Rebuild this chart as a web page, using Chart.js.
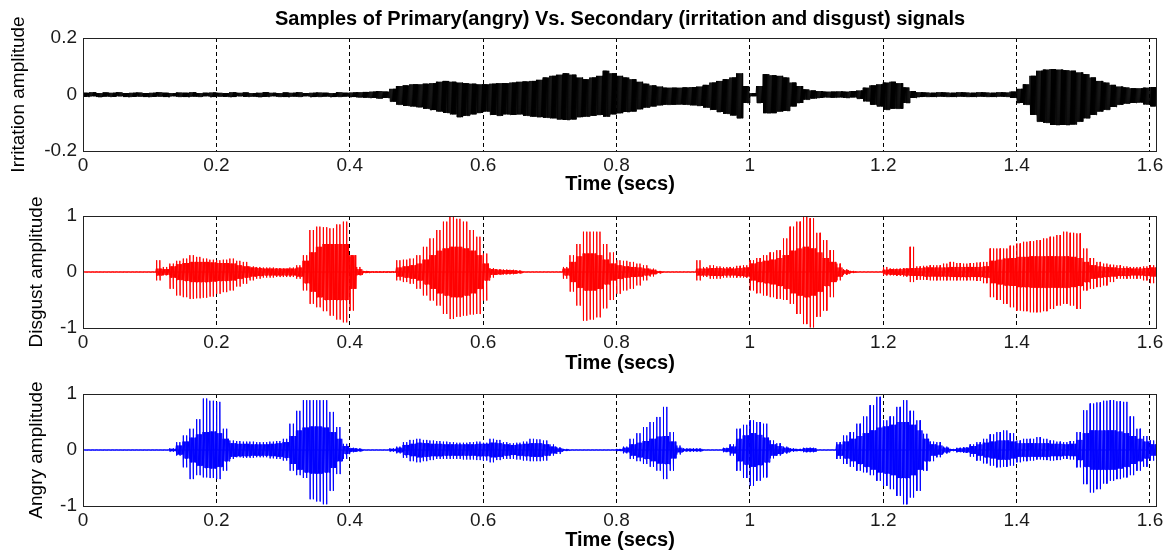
<!DOCTYPE html>
<html><head><meta charset="utf-8">
<script src="https://cdn.jsdelivr.net/npm/chart.js@4/dist/chart.umd.min.js"></script>
<style>
html,body{margin:0;padding:0;background:#fff;overflow:hidden;width:1167px;height:551px;}
canvas{position:absolute;left:0;}
</style></head><body>
<canvas id="c1" width="1167" height="200" style="top:0px"></canvas>
<canvas id="c2" width="1167" height="190" style="top:190px"></canvas>
<canvas id="c3" width="1167" height="180" style="top:375px"></canvas>
<script>
// ---- data (envelope of each signal read per 0.01 s bin, from t = 0 to 1.61 s) ----
const TIME_STEP = 0.01;
const X_MAX = 1.6105;
const xTicks = [0, 0.2, 0.4, 0.6, 0.8, 1.0, 1.2, 1.4, 1.6];
const irrTicks = [-0.2, 0, 0.2];
const ampTicks = [-1, 0, 1];

const irrTop = [
0.006,0.008,0.005,0.007,0.006,0.008,0.005,0.006,0.007,0.005,
0.006,0.008,0.006,0.005,0.007,0.006,0.008,0.005,0.006,0.007,
0.006,0.005,0.008,0.006,0.007,0.005,0.006,0.008,0.006,0.005,
0.007,0.006,0.008,0.005,0.006,0.007,0.006,0.005,0.008,0.006,
0.007,0.008,0.009,0.01,0.012,0.01,0.02,0.03,0.032,0.036,
0.036,0.038,0.04,0.045,0.048,0.045,0.042,0.04,0.038,0.036,
0.036,0.038,0.04,0.04,0.042,0.045,0.046,0.048,0.052,0.06,
0.066,0.07,0.075,0.07,0.06,0.054,0.06,0.066,0.084,0.075,
0.066,0.06,0.054,0.045,0.038,0.032,0.028,0.024,0.024,0.024,
0.025,0.026,0.028,0.034,0.042,0.048,0.054,0.06,0.075,0.03,
0.005,0.03,0.072,0.068,0.066,0.06,0.042,0.03,0.018,0.014,
0.012,0.01,0.01,0.011,0.01,0.012,0.014,0.024,0.032,0.036,
0.042,0.045,0.04,0.025,0.012,0.008,0.007,0.006,0.008,0.007,
0.006,0.008,0.007,0.006,0.008,0.007,0.006,0.008,0.007,0.01,
0.02,0.036,0.066,0.084,0.088,0.09,0.088,0.086,0.084,0.078,
0.072,0.06,0.048,0.042,0.034,0.028,0.025,0.022,0.022,0.024,
0.026,0.028];
const irrBot = [
-0.008,-0.006,-0.009,-0.007,-0.008,-0.006,-0.009,-0.008,-0.007,-0.009,
-0.008,-0.007,-0.009,-0.006,-0.008,-0.009,-0.007,-0.008,-0.006,-0.009,
-0.007,-0.008,-0.009,-0.006,-0.008,-0.007,-0.009,-0.008,-0.006,-0.008,
-0.009,-0.007,-0.008,-0.006,-0.009,-0.008,-0.007,-0.009,-0.008,-0.007,
-0.009,-0.01,-0.011,-0.012,-0.014,-0.012,-0.025,-0.036,-0.04,-0.042,
-0.045,-0.05,-0.055,-0.06,-0.065,-0.07,-0.08,-0.075,-0.07,-0.065,
-0.06,-0.072,-0.075,-0.07,-0.072,-0.07,-0.075,-0.078,-0.08,-0.082,
-0.084,-0.088,-0.09,-0.088,-0.08,-0.078,-0.075,-0.072,-0.078,-0.07,
-0.066,-0.062,-0.06,-0.052,-0.046,-0.042,-0.038,-0.036,-0.036,-0.035,
-0.036,-0.038,-0.04,-0.046,-0.054,-0.062,-0.068,-0.074,-0.084,-0.03,
-0.006,-0.03,-0.066,-0.066,-0.06,-0.058,-0.042,-0.03,-0.018,-0.014,
-0.012,-0.01,-0.011,-0.01,-0.012,-0.01,-0.015,-0.024,-0.036,-0.042,
-0.054,-0.05,-0.05,-0.03,-0.012,-0.009,-0.008,-0.009,-0.007,-0.008,
-0.009,-0.007,-0.008,-0.009,-0.007,-0.008,-0.009,-0.007,-0.008,-0.012,
-0.03,-0.036,-0.072,-0.096,-0.1,-0.108,-0.108,-0.108,-0.106,-0.096,
-0.084,-0.072,-0.06,-0.054,-0.044,-0.036,-0.032,-0.03,-0.028,-0.035,
-0.042,-0.042];

// disgust: peak envelope (spikes) and dense core amplitude
const disTop = [
0.005,0.004,0.005,0.004,0.005,0.004,0.005,0.004,0.005,0.004,
0.005,0.21,0.09,0.15,0.2,0.24,0.3,0.27,0.24,0.22,
0.21,0.22,0.24,0.2,0.18,0.1,0.09,0.08,0.08,0.07,
0.06,0.08,0.12,0.3,0.75,0.81,0.8,0.78,0.85,0.9,
0.27,0.09,0.02,0.01,0.01,0.01,0.01,0.21,0.22,0.24,
0.3,0.45,0.6,0.75,0.9,0.99,0.95,0.9,0.75,0.63,
0.33,0.07,0.05,0.045,0.04,0.03,0.005,0.005,0.005,0.005,
0.005,0.005,0.09,0.3,0.5,0.72,0.72,0.72,0.5,0.35,
0.21,0.2,0.18,0.15,0.12,0.06,0.02,0.005,0.005,0.005,
0.005,0.005,0.21,0.09,0.12,0.1,0.09,0.09,0.11,0.12,
0.21,0.25,0.3,0.35,0.39,0.6,0.81,0.9,0.99,0.96,
0.7,0.57,0.39,0.15,0.05,0.02,0.003,0.003,0.003,0.003,
0.09,0.06,0.06,0.07,0.45,0.1,0.11,0.12,0.12,0.15,
0.18,0.16,0.15,0.16,0.17,0.18,0.42,0.42,0.42,0.47,
0.51,0.54,0.55,0.57,0.6,0.63,0.66,0.72,0.7,0.69,
0.42,0.25,0.18,0.15,0.13,0.12,0.1,0.09,0.09,0.1,
0.12,0.24];
const disBot = [
-0.005,-0.004,-0.005,-0.004,-0.005,-0.004,-0.005,-0.004,-0.005,-0.004,
-0.005,-0.15,-0.06,-0.3,-0.42,-0.45,-0.48,-0.47,-0.46,-0.44,
-0.39,-0.36,-0.33,-0.26,-0.21,-0.15,-0.12,-0.1,-0.1,-0.09,
-0.09,-0.09,-0.12,-0.33,-0.57,-0.63,-0.7,-0.78,-0.85,-0.9,
-0.69,-0.06,-0.02,-0.01,-0.01,-0.01,-0.01,-0.15,-0.18,-0.21,
-0.3,-0.42,-0.51,-0.6,-0.75,-0.84,-0.8,-0.78,-0.76,-0.75,
-0.51,-0.1,-0.05,-0.045,-0.04,-0.03,-0.005,-0.005,-0.005,-0.005,
-0.005,-0.005,-0.12,-0.35,-0.6,-0.87,-0.85,-0.81,-0.65,-0.5,
-0.39,-0.33,-0.3,-0.24,-0.15,-0.08,-0.03,-0.005,-0.005,-0.005,
-0.005,-0.005,-0.15,-0.09,-0.12,-0.12,-0.1,-0.1,-0.1,-0.1,
-0.33,-0.38,-0.42,-0.45,-0.48,-0.5,-0.57,-0.75,-0.93,-0.99,
-0.8,-0.69,-0.45,-0.15,-0.05,-0.02,-0.003,-0.003,-0.003,-0.003,
-0.06,-0.06,-0.07,-0.08,-0.18,-0.14,-0.14,-0.15,-0.15,-0.15,
-0.15,-0.15,-0.15,-0.15,-0.16,-0.2,-0.45,-0.5,-0.57,-0.63,
-0.69,-0.7,-0.72,-0.72,-0.7,-0.66,-0.6,-0.57,-0.6,-0.66,
-0.33,-0.3,-0.27,-0.24,-0.18,-0.12,-0.12,-0.12,-0.12,-0.15,
-0.2,-0.33];
const disCore = [
0.003,0.003,0.003,0.003,0.003,0.003,0.003,0.003,0.003,0.003,
0.003,0.06,0.05,0.1,0.14,0.16,0.18,0.18,0.18,0.17,
0.16,0.16,0.15,0.12,0.1,0.08,0.07,0.06,0.06,0.06,
0.06,0.06,0.08,0.2,0.35,0.45,0.5,0.5,0.5,0.5,
0.3,0.05,0.015,0.008,0.008,0.008,0.008,0.08,0.1,0.12,
0.15,0.22,0.3,0.38,0.42,0.45,0.45,0.42,0.38,0.3,
0.15,0.05,0.04,0.035,0.03,0.02,0.003,0.003,0.003,0.003,
0.003,0.003,0.06,0.18,0.28,0.33,0.33,0.3,0.22,0.15,
0.12,0.1,0.09,0.08,0.06,0.04,0.015,0.003,0.003,0.003,
0.003,0.003,0.06,0.06,0.07,0.07,0.06,0.06,0.07,0.08,
0.15,0.18,0.2,0.22,0.25,0.3,0.38,0.42,0.45,0.42,
0.35,0.25,0.18,0.08,0.03,0.01,0.003,0.003,0.003,0.003,
0.04,0.05,0.05,0.06,0.07,0.07,0.08,0.08,0.08,0.08,
0.09,0.09,0.09,0.09,0.09,0.1,0.2,0.22,0.24,0.25,
0.27,0.27,0.28,0.28,0.28,0.28,0.28,0.28,0.27,0.25,
0.18,0.12,0.1,0.09,0.08,0.07,0.07,0.06,0.06,0.07,
0.08,0.12];

// angry: peak envelope (spikes) and dense core amplitude
const angTop = [
0.003,0.003,0.003,0.003,0.003,0.003,0.003,0.003,0.003,0.003,
0.003,0.003,0.003,0.03,0.14,0.26,0.38,0.55,0.92,0.88,
0.86,0.38,0.17,0.16,0.15,0.15,0.14,0.14,0.15,0.16,
0.2,0.47,0.7,0.89,0.89,0.89,0.89,0.68,0.41,0.11,
0.04,0.03,0.003,0.003,0.003,0.003,0.03,0.06,0.14,0.18,
0.2,0.18,0.17,0.16,0.15,0.14,0.13,0.13,0.14,0.15,
0.13,0.2,0.18,0.14,0.12,0.13,0.15,0.2,0.19,0.17,
0.1,0.05,0.02,0.003,0.003,0.003,0.003,0.003,0.003,0.003,
0.02,0.06,0.2,0.3,0.41,0.5,0.59,0.77,0.32,0.08,
0.03,0.03,0.03,0.003,0.003,0.003,0.04,0.1,0.38,0.45,
0.53,0.5,0.47,0.17,0.12,0.06,0.03,0.02,0.04,0.04,
0.003,0.003,0.003,0.14,0.26,0.32,0.47,0.6,0.8,0.95,
0.53,0.6,0.77,0.89,0.7,0.53,0.29,0.15,0.14,0.06,
0.02,0.04,0.05,0.1,0.14,0.2,0.28,0.32,0.35,0.3,
0.17,0.2,0.2,0.23,0.2,0.17,0.15,0.14,0.16,0.32,
0.71,0.83,0.85,0.88,0.89,0.87,0.86,0.6,0.38,0.25,
0.17,0.08];
const angBot = [
-0.003,-0.003,-0.003,-0.003,-0.003,-0.003,-0.003,-0.003,-0.003,-0.003,
-0.003,-0.003,-0.003,-0.03,-0.1,-0.31,-0.52,-0.45,-0.49,-0.5,
-0.52,-0.37,-0.16,-0.13,-0.14,-0.14,-0.13,-0.13,-0.15,-0.16,
-0.19,-0.37,-0.45,-0.5,-0.88,-0.92,-0.97,-0.73,-0.43,-0.16,
-0.04,-0.03,-0.003,-0.003,-0.003,-0.003,-0.03,-0.06,-0.14,-0.2,
-0.22,-0.2,-0.18,-0.16,-0.16,-0.16,-0.16,-0.17,-0.17,-0.18,
-0.19,-0.22,-0.18,-0.16,-0.16,-0.17,-0.19,-0.2,-0.2,-0.19,
-0.1,-0.07,-0.02,-0.003,-0.003,-0.003,-0.003,-0.003,-0.003,-0.003,
-0.02,-0.06,-0.16,-0.2,-0.25,-0.3,-0.37,-0.52,-0.37,-0.08,
-0.03,-0.03,-0.03,-0.003,-0.003,-0.003,-0.04,-0.1,-0.37,-0.5,
-0.64,-0.55,-0.49,-0.15,-0.1,-0.06,-0.03,-0.02,-0.04,-0.04,
-0.003,-0.003,-0.003,-0.16,-0.25,-0.3,-0.37,-0.4,-0.45,-0.55,
-0.64,-0.7,-0.82,-0.97,-0.85,-0.73,-0.37,-0.2,-0.13,-0.06,
-0.02,-0.04,-0.05,-0.12,-0.19,-0.24,-0.28,-0.31,-0.3,-0.28,
-0.22,-0.2,-0.19,-0.17,-0.18,-0.19,-0.18,-0.16,-0.17,-0.31,
-0.61,-0.76,-0.7,-0.6,-0.55,-0.52,-0.49,-0.45,-0.37,-0.3,
-0.19,-0.13];
const angCore = [
0.003,0.003,0.003,0.003,0.003,0.003,0.003,0.003,0.003,0.003,
0.003,0.003,0.003,0.02,0.08,0.15,0.22,0.28,0.32,0.33,
0.3,0.2,0.12,0.11,0.11,0.1,0.1,0.1,0.11,0.12,
0.14,0.25,0.35,0.4,0.42,0.42,0.4,0.32,0.2,0.07,
0.03,0.02,0.003,0.003,0.003,0.003,0.02,0.04,0.09,0.11,
0.13,0.12,0.11,0.11,0.1,0.1,0.1,0.1,0.1,0.11,
0.11,0.13,0.12,0.1,0.09,0.1,0.11,0.12,0.12,0.1,
0.06,0.03,0.01,0.003,0.003,0.003,0.003,0.003,0.003,0.003,
0.015,0.04,0.1,0.13,0.16,0.2,0.24,0.25,0.15,0.04,
0.02,0.02,0.02,0.003,0.003,0.003,0.03,0.06,0.2,0.26,
0.3,0.27,0.22,0.1,0.07,0.04,0.02,0.015,0.03,0.03,
0.003,0.003,0.003,0.1,0.15,0.2,0.25,0.3,0.35,0.4,
0.42,0.45,0.5,0.5,0.45,0.35,0.2,0.1,0.08,0.04,
0.015,0.03,0.04,0.07,0.1,0.13,0.15,0.17,0.17,0.15,
0.12,0.12,0.12,0.12,0.12,0.11,0.11,0.1,0.11,0.18,
0.3,0.35,0.35,0.35,0.35,0.33,0.3,0.25,0.2,0.15,
0.1,0.07];

// ---- rendering helpers ----
const FONT = "'Liberation Sans', Arial, Helvetica, sans-serif";
const TXT = '#1a1a1a';

// dense oscillation between the read upper and lower envelope of each bin
function envelopeTrace(top, bot, reps) {
  const pts = [];
  const sub = TIME_STEP / reps;
  for (let i = 0; i < top.length; i++) {
    const t = i * TIME_STEP;
    for (let k = 0; k < reps; k++) {
      pts.push({x: t + k * sub, y: top[i]});
      pts.push({x: t + k * sub + sub / 2, y: bot[i]});
    }
  }
  return pts;
}
// near-vertical pitch spikes reaching the read peak envelope, returning to the baseline
function spikeTrace(top, bot, perBin) {
  const pts = [];
  const sub = TIME_STEP / perBin;
  for (let i = 0; i < top.length; i++) {
    const t = i * TIME_STEP;
    for (let k = 0; k < perBin; k++) {
      const s = t + k * sub;
      pts.push({x: s, y: 0});
      pts.push({x: s + 0.0002, y: top[i]});
      pts.push({x: s + 0.0005, y: bot[i]});
      pts.push({x: s + 0.0007, y: 0});
    }
  }
  return pts;
}
function negate(a) { return a.map(v => -v); }

const boxPlugin = {
  id: 'box',
  afterDraw(chart) {
    const {ctx, chartArea: a} = chart;
    ctx.save();
    ctx.strokeStyle = '#222';
    ctx.lineWidth = 1;
    ctx.setLineDash([]);
    ctx.strokeRect(Math.round(a.left) + 0.5, Math.round(a.top) + 0.5,
                   Math.round(a.right - a.left) - 1, Math.round(a.bottom - a.top));
    ctx.restore();
  }
};

function fmt(v) { return String(Math.round(v * 10) / 10); }

function ds(points, color) {
  return {data: points, borderColor: color, borderWidth: 1, pointRadius: 0,
          tension: 0, fill: false, spanGaps: true};
}

function makePanel(id, o) {
  new Chart(document.getElementById(id), {
    type: 'line',
    data: {datasets: o.datasets},
    options: {
      responsive: false, animation: false, devicePixelRatio: 1,
      parsing: false, normalized: true,
      layout: {padding: {left: 0, right: 10, top: o.padTop, bottom: 0}},
      plugins: {
        legend: {display: false}, tooltip: {enabled: false},
        title: o.title ? {
          display: true, text: o.title, fullSize: false, color: '#000',
          font: {family: FONT, size: 20, weight: 'bold', lineHeight: 1.2},
          padding: {top: 7, bottom: 7}
        } : {display: false}
      },
      scales: {
        x: {
          type: 'linear', min: 0, max: X_MAX,
          afterBuildTicks: s => { s.ticks = xTicks.map(v => ({value: v})); },
          afterFit: s => { s.height = o.xAxisH; },
          ticks: {callback: v => fmt(v), color: TXT, padding: 3, maxRotation: 0, autoSkip: false,
                  font: {family: FONT, size: 19}},
          grid: {color: '#000', lineWidth: 1, drawTicks: false},
          border: {display: false, dash: [4, 3]},
          title: {display: true, text: 'Time (secs)', color: '#000',
                  font: {family: FONT, size: 20, weight: 'bold', lineHeight: 1.2},
                  padding: {top: 0, bottom: o.xTitlePad}}
        },
        y: {
          type: 'linear', min: o.yTicks[0], max: o.yTicks[o.yTicks.length - 1],
          afterBuildTicks: s => { s.ticks = o.yTicks.map(v => ({value: v})); },
          afterFit: s => { s.width = 83; },
          ticks: {callback: v => fmt(v), color: TXT, padding: 6, autoSkip: false,
                  font: {family: FONT, size: 19}},
          grid: {display: false, drawTicks: false},
          border: {display: false},
          title: {display: true, text: o.yTitle, color: '#000',
                  font: {family: FONT, size: 19, lineHeight: 1.2},
                  padding: {top: o.yTitlePad, bottom: 0}}
        }
      }
    },
    plugins: [boxPlugin]
  });
}

makePanel('c1', {
  datasets: [ds(envelopeTrace(irrTop, irrBot, 6), '#000')],
  yTicks: irrTicks, yTitle: 'Irritation amplitude', yTitlePad: 7,
  padTop: 0, xAxisH: 49, xTitlePad: 4,
  title: 'Samples of Primary(angry) Vs. Secondary (irritation and disgust) signals'});
makePanel('c2', {
  datasets: [ds(envelopeTrace(disCore, negate(disCore), 5), '#ff0000'),
             ds(spikeTrace(disTop, disBot, 2), '#ff0000')],
  yTicks: ampTicks, yTitle: 'Disgust amplitude', yTitlePad: 25,
  padTop: 26, xAxisH: 52, xTitlePad: 5});
makePanel('c3', {
  datasets: [ds(envelopeTrace(angCore, negate(angCore), 5), '#0000ff'),
             ds(spikeTrace(angTop, angBot, 2), '#0000ff')],
  yTicks: ampTicks, yTitle: 'Angry amplitude', yTitlePad: 25,
  padTop: 19, xAxisH: 49, xTitlePad: 3});
</script>
</body></html>
